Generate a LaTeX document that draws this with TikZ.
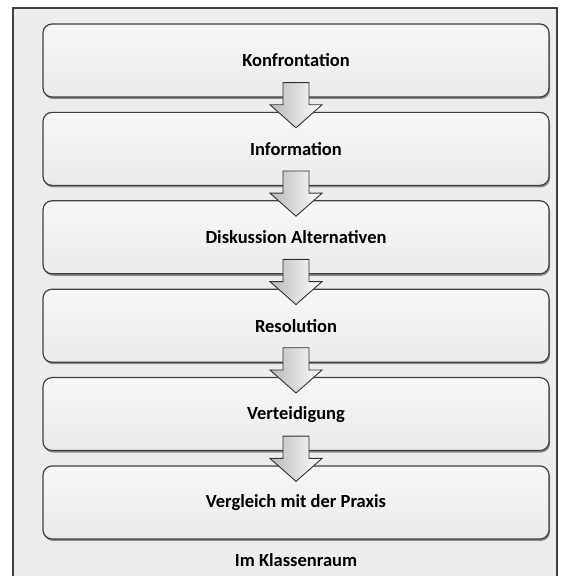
\documentclass[tikz,border=0pt]{standalone}
\usepackage{fontspec}
\setmainfont{Carlito}
\usetikzlibrary{calc,shadows}

% block arrow between two stacked boxes
\newcommand{\stepdown}[2]{%
  \path ($(#1.south)+(0,15)$) coordinate (top-#1)
        ($(#2.north)+(0,-16)$) coordinate (tip-#1);
  \draw[blockarrow] ($(top-#1)+(-13,0)$) -- ($(top-#1)+(13,0)$)
      -- ($(tip-#1)+(13,23)$) -- ($(tip-#1)+(26,23)$) -- (tip-#1)
      -- ($(tip-#1)+(-26,23)$) -- ($(tip-#1)+(-13,23)$) -- cycle;
}

\begin{document}
\begin{tikzpicture}[x=1pt,y=1pt,
    phase/.style={draw=black!75, line width=1.2pt, rounded corners=9pt,
        top color=gray!6, bottom color=gray!16,
        minimum width=506pt, minimum height=73pt,
        font=\fontsize{18.5}{22}\selectfont\bfseries,
        drop shadow={shadow xshift=1pt, shadow yshift=-2pt, fill=black!55, opacity=.8}},
    blockarrow/.style={draw=black!80, line width=0.9pt, line join=miter,
        left color=gray!55, right color=white}]
    \useasboundingbox (0,0) rectangle (567,576);

    % outer frame
    \draw[fill=gray!14, draw=black!75, line width=1.6pt] (13,-6) rectangle (557,568);

    % phases
    \node[phase] (konf) at (296,515.5) {Konfrontation};
    \node[phase] (info) at (296,427.1) {Information};
    \node[phase] (disk) at (296,338.7) {Diskussion Alternativen};
    \node[phase] (reso) at (296,250.3) {Resolution};
    \node[phase] (vert) at (296,161.9) {Verteidigung};
    \node[phase] (verg) at (296,73.5) {Vergleich mit der Praxis};

    % arrows
    \stepdown{konf}{info}
    \stepdown{info}{disk}
    \stepdown{disk}{reso}
    \stepdown{reso}{vert}
    \stepdown{vert}{verg}

    \node[font=\fontsize{18.5}{22}\selectfont\bfseries] (raum) at (296,16) {Im Klassenraum};
\end{tikzpicture}
\end{document}
